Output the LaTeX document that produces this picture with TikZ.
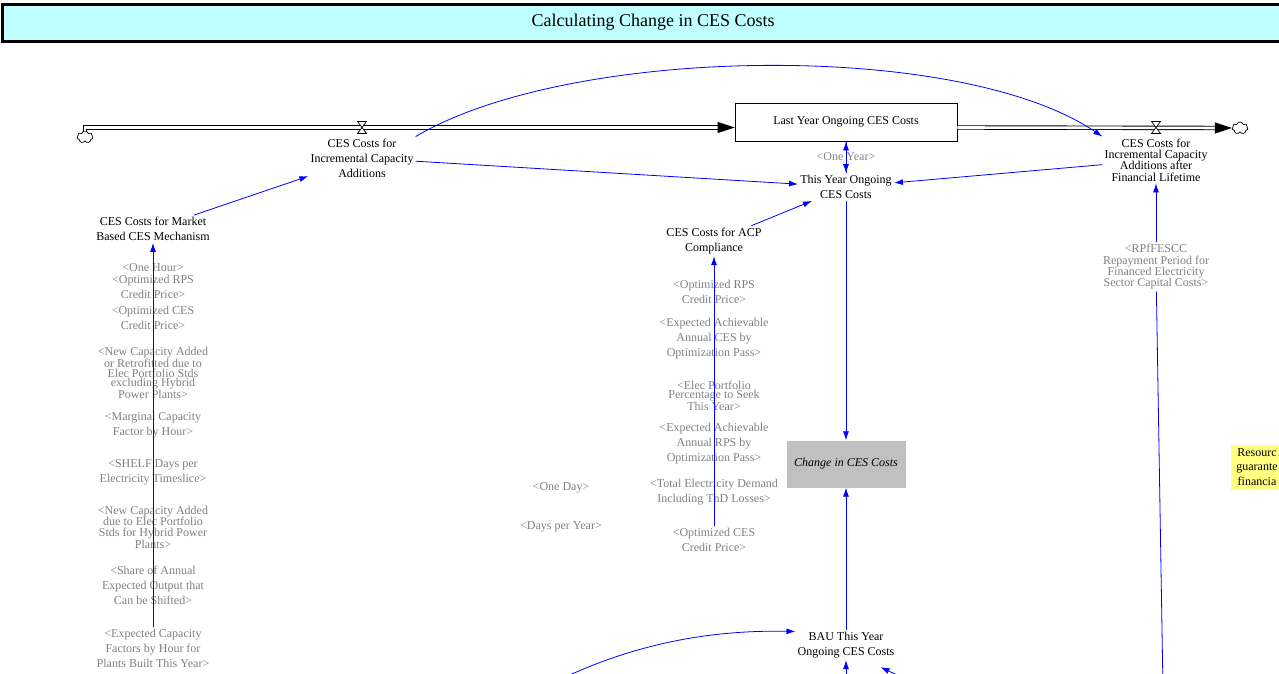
\documentclass[tikz,border=0pt]{standalone}
\usepackage{fontspec}
\setmainfont{Liberation Serif}
\usetikzlibrary{arrows.meta,shapes.symbols}

\definecolor{titlecyan}{RGB}{192,255,255}
\definecolor{noteyellow}{RGB}{255,255,128}
\definecolor{ghost}{RGB}{128,128,128}
\definecolor{auxgray}{RGB}{192,192,192}

\tikzset{
  var/.style={align=center, inner sep=2pt, font=\fontsize{12}{15}\selectfont},
  shadowvar/.style={var, text=ghost},
  squeezed/.style={font=\fontsize{12}{8}\selectfont},
  narrow/.style={font=\fontsize{12}{11.3}\selectfont},
  stockbox/.style={draw, line width=0.8pt, minimum width=222pt, minimum height=38pt, font=\fontsize{12}{15}\selectfont},
  changebox/.style={fill=auxgray, minimum width=119pt, minimum height=47pt, font=\fontsize{12}{15}\selectfont\itshape},
  notetext/.style={align=center, inner sep=1pt, font=\fontsize{12}{14.5}\selectfont},
  cloudsym/.style={cloud, draw, cloud puffs=7, line width=0.7pt, minimum width=16pt, minimum height=12pt, inner sep=0pt},
  link/.style={draw=blue, line width=0.8pt, -{Latex[length=9pt,width=6pt]}},
  pipe/.style={double, double distance=2.6pt, line width=0.9pt, -{Triangle[length=17pt,width=11pt]}},
}

\begin{document}
\begin{tikzpicture}[x=1pt, y=-1pt]
  \useasboundingbox (0,0) rectangle (1279,674);

  % Title
  \draw[line width=3pt, fill=titlecyan] (2.5,4.5) rectangle (1295,41.5);
  \node[font=\fontsize{18}{20}\selectfont] (title) at (653,22) {Calculating Change in CES Costs};

  % Stock and flows
  \node[stockbox] (last) at (846,122) {Last Year Ongoing CES Costs};
  \node[cloudsym] (srcL) at (85,137) {};
  \node[cloudsym] (sinkR) at (1240,128) {};
  \coordinate (vL) at (362,127.5);
  \coordinate (vR) at (1156,127.5);

  \draw[pipe] (srcL.north) |- (last.west |- vL);
  \draw[pipe] (last.east |- vR) -- (sinkR.west);

  \draw[fill=white, line width=0.7pt, shift={(vL)}] (-4.5,-6) -- (4.5,-6) -- (-4.5,6) -- (4.5,6) -- cycle;
  \draw[fill=white, line width=0.7pt, shift={(vR)}] (-4.5,-6) -- (4.5,-6) -- (-4.5,6) -- (4.5,6) -- cycle;

  \node[var] (incr) at (362,158) {CES Costs for\\Incremental Capacity\\Additions};
  \node[var, narrow] (fin) at (1156,160) {CES Costs for\\Incremental Capacity\\Additions after\\Financial Lifetime};

  % Variables
  \node[var] (this) at (846,187) {This Year Ongoing\\CES Costs};
  \node[shadowvar] (oneyear) at (846,157) {<One Year>};
  \node[var] (mkt) at (153,229) {CES Costs for Market\\Based CES Mechanism};
  \node[var] (acp) at (714,241) {CES Costs for ACP\\Compliance};
  \node[changebox] (change) at (846,464) {Change in CES Costs};
  \node[var] (bau) at (846,645) {BAU This Year\\Ongoing CES Costs};
  \node[shadowvar, narrow] (rp) at (1156,267) {<RPfFESCC\\Repayment Period for\\Financed Electricity\\Sector Capital Costs>};

  % Note at the right edge
  \fill[noteyellow] (1231,445) rectangle (1295,490);
  \node[notetext] (note) at (1257,467) {Resourc\\guarante\\financia};

  % Shadow variables, left column
  \node[shadowvar] (onehour) at (153,268) {<One Hour>};
  \node[shadowvar] (rpsL) at (153,287) {<Optimized RPS\\Credit Price>};
  \node[shadowvar] (cesL) at (153,318) {<Optimized CES\\Credit Price>};
  \node[shadowvar, squeezed] (newcap) at (153,373) {<New Capacity Added\\or Retrofitted due to\\Elec Portfolio Stds\\excluding Hybrid\\Power Plants>};
  \node[shadowvar] (margcf) at (153,425) {<Marginal Capacity\\Factor by Hour>};
  \node[shadowvar] (shelf) at (153,472) {<SHELF Days per\\Electricity Timeslice>};
  \node[shadowvar, narrow] (hybrid) at (153,527) {<New Capacity Added\\due to Elec Portfolio\\Stds for Hybrid Power\\Plants>};
  \node[shadowvar] (shiftable) at (153,585) {<Share of Annual\\Expected Output that\\Can be Shifted>};
  \node[shadowvar] (expcf) at (153,648) {<Expected Capacity\\Factors by Hour for\\Plants Built This Year>};

  % Shadow variables, middle column
  \node[shadowvar] (rpsM) at (714,292) {<Optimized RPS\\Credit Price>};
  \node[shadowvar] (achces) at (714,339) {<Expected Achievable\\Annual CES by\\Optimization Pass>};
  \node[shadowvar, squeezed] (pct) at (714,396) {<Elec Portfolio\\Percentage to Seek\\This Year>};
  \node[shadowvar] (achrps) at (714,444) {<Expected Achievable\\Annual RPS by\\Optimization Pass>};
  \node[shadowvar] (demand) at (714,492) {<Total Electricity Demand\\Including TnD Losses>};
  \node[shadowvar] (cesM) at (714,540) {<Optimized CES\\Credit Price>};
  \node[shadowvar] (oneday) at (561,488) {<One Day>};
  \node[shadowvar] (daysyr) at (561,527) {<Days per Year>};

  % Links
  \draw[link] (incr.north east) .. controls (570,45) and (960,40) .. (fin.north west);
  \draw[link] (mkt) -- (incr);
  \draw[link] (incr) -- (this);
  \draw[link] (fin) -- (this);
  \draw[link] (last) -- (this);
  \draw[link] (this) -- (last);
  \draw[link] (acp) -- (this);
  \draw[link] (this) -- (change);
  \draw[link] (bau) -- (change);
  \draw[link] (expcf) -- (mkt);
  \draw[link] (cesM) -- (acp);
  \draw[link] (rp) -- (fin);

  % Links from below the page
  \coordinate (rpsrc) at (1163,690);
  \coordinate (bausrc) at (555,682);
  \coordinate (bausrcA) at (846,700);
  \coordinate (bausrcB) at (912,682);
  \draw[draw=blue, line width=0.8pt] (rpsrc) -- (rp);
  \draw[link] (bausrc) .. controls (640,640) and (720,630) .. (bau.165);
  \draw[link] (bausrcA) -- (bau);
  \draw[link] (bausrcB) -- ([xshift=-16pt,yshift=-7pt]bau.south east);
\end{tikzpicture}
\end{document}
